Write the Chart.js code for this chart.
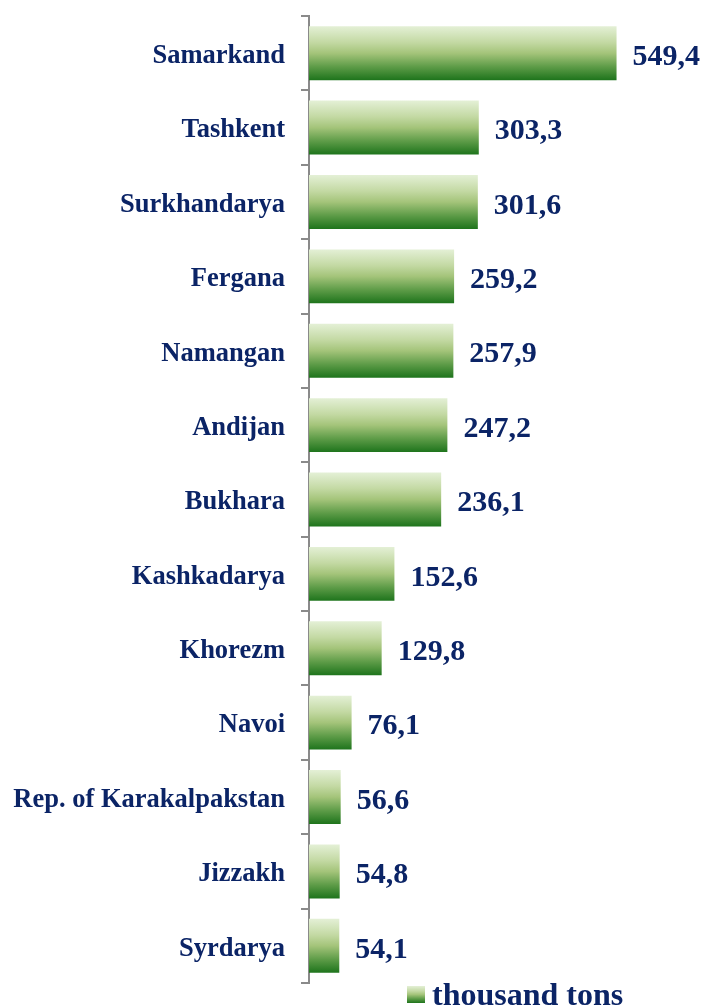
<!DOCTYPE html>
<html>
<head>
<meta charset="utf-8">
<script src="https://cdn.jsdelivr.net/npm/chart.js@4/dist/chart.umd.min.js"></script>
<style>
  html, body { margin: 0; padding: 0; background: #ffffff; }
  #wrap { width: 707px; height: 1006px; }
</style>
</head>
<body>
<div id="wrap"><canvas id="barChart" width="707" height="1006"></canvas></div>
<script>
// Dados
const regions = ['Samarkand', 'Tashkent', 'Surkhandarya', 'Fergana', 'Namangan', 'Andijan', 'Bukhara',
    'Kashkadarya', 'Khorezm', 'Navoi', 'Rep. of Karakalpakstan', 'Jizzakh', 'Syrdarya'];
const production = [549.4, 303.3, 301.6, 259.2, 257.9, 247.2, 236.1, 152.6, 129.8, 76.1, 56.6, 54.8, 54.1];
const seriesName = 'thousand tons';

const navy = '#0b2466';
const serif = '"Liberation Serif", "Times New Roman", serif';
const barRatio = 0.725;

function greenGradient(ctx, top, bottom) {
    const g = ctx.createLinearGradient(0, top, 0, bottom);
    g.addColorStop(0, '#e4f0d6');
    g.addColorStop(0.3, '#c3d9a3');
    g.addColorStop(0.5, '#a4c47a');
    g.addColorStop(0.75, '#5e9c48');
    g.addColorStop(1, '#1e741c');
    return g;
}

function barGradient(context) {
    const chart = context.chart;
    const area = chart.chartArea;
    if (!area) return '#a4c47a';
    const yc = chart.scales.y.getPixelForValue(context.dataIndex);
    const half = (area.bottom - area.top) / regions.length * barRatio / 2;
    return greenGradient(chart.ctx, yc - half, yc + half);
}

// Rótulos de valor à direita das barras
const valueLabels = {
    id: 'valueLabels',
    afterDatasetsDraw(chart) {
        const ctx = chart.ctx;
        const meta = chart.getDatasetMeta(0);
        ctx.save();
        ctx.font = 'bold 30px ' + serif;
        ctx.fillStyle = navy;
        ctx.textAlign = 'left';
        ctx.textBaseline = 'middle';
        meta.data.forEach((bar, i) => {
            const txt = production[i].toFixed(1).replace('.', ',');
            ctx.fillText(txt, bar.x + 16, bar.y + 4);
        });
        ctx.restore();
    }
};

// Legenda desenhada à mão (caixa com gradiente + texto)
const seriesLegend = {
    id: 'seriesLegend',
    afterDraw(chart) {
        const ctx = chart.ctx;
        const x = 407, y = chart.chartArea.bottom + 3;
        ctx.save();
        ctx.fillStyle = greenGradient(ctx, y, y + 17);
        ctx.fillRect(x, y, 18, 17);
        ctx.font = 'bold 32px ' + serif;
        ctx.fillStyle = navy;
        ctx.textAlign = 'left';
        ctx.textBaseline = 'alphabetic';
        ctx.fillText(chart.data.datasets[0].label, x + 25, y + 19);
        ctx.restore();
    }
};

document.addEventListener('DOMContentLoaded', function() {
    const ctx = document.getElementById('barChart').getContext('2d');
    new Chart(ctx, {
        type: 'bar',
        data: {
            labels: regions,
            datasets: [{
                label: seriesName,
                data: production,
                backgroundColor: barGradient,
                borderWidth: 0,
                barPercentage: barRatio,
                categoryPercentage: 1
            }]
        },
        options: {
            indexAxis: 'y',
            responsive: false,
            animation: false,
            layout: { padding: { top: 16, right: 75, left: 0, bottom: 23 } },
            plugins: {
                legend: { display: false },
                tooltip: { enabled: false }
            },
            scales: {
                x: {
                    display: false,
                    min: 0,
                    max: 577
                },
                y: {
                    afterFit: function(scale) {
                        scale.width = 309;
                        scale.paddingTop = 0;
                        scale.paddingBottom = 0;
                    },
                    grid: {
                        display: true,
                        drawOnChartArea: false,
                        tickLength: 8,
                        color: '#8a8a8a',
                        lineWidth: 2
                    },
                    border: { display: true, color: '#8a8a8a', width: 2 },
                    ticks: {
                        padding: 16,
                        labelOffset: 3,
                        color: navy,
                        font: { family: serif, size: 26.5, weight: 'bold' }
                    }
                }
            }
        },
        plugins: [valueLabels, seriesLegend]
    });
});
</script>
</body>
</html>
